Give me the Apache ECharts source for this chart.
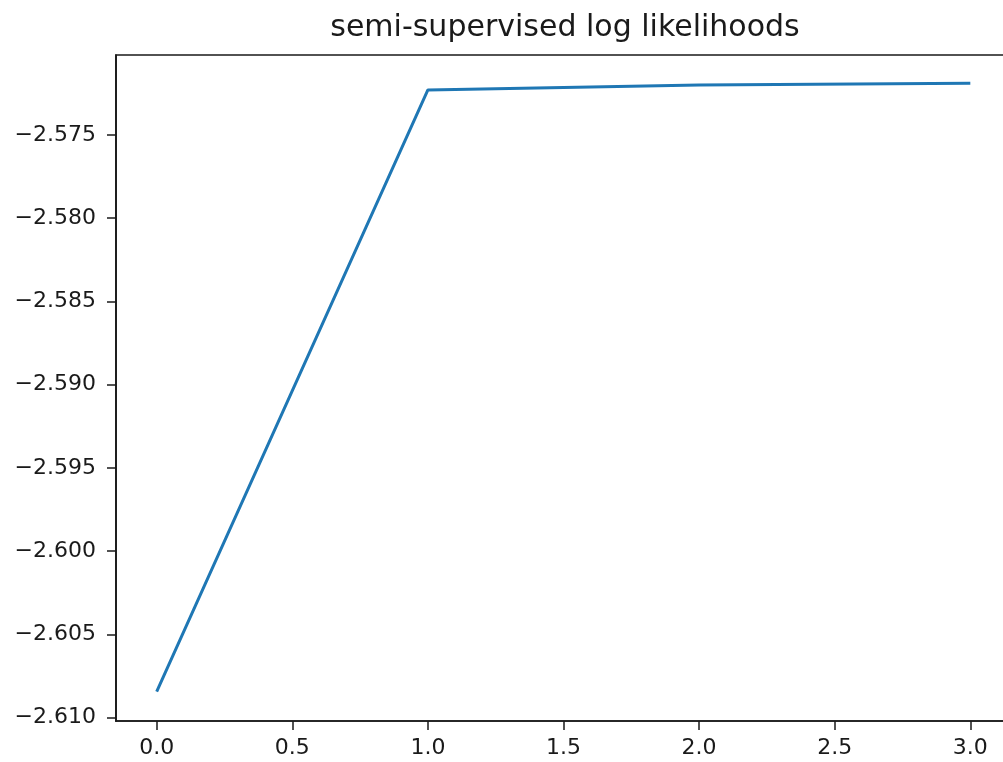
<!DOCTYPE html>
<html>
<head>
<meta charset="utf-8">
<script src="https://cdn.jsdelivr.net/npm/echarts@6/dist/echarts.min.js"></script>
<style>
html,body{margin:0;padding:0;background:#fff;}
#c{width:1003px;height:762px;}
</style>
</head>
<body>
<div id="c"></div>
<script>
const iterations = [0, 1, 2, 3];
const logLikelihoods = [-2.60843, -2.57230, -2.57200, -2.57190];
const xTicks = [0, 0.5, 1.0, 1.5, 2.0, 2.5, 3.0];
const yTicks = [-2.610, -2.605, -2.600, -2.595, -2.590, -2.585, -2.580, -2.575];
const titleText = 'semi-supervised log likelihoods';

const font = 'DejaVu Sans';
const chart = echarts.init(document.getElementById('c'), null, {renderer: 'canvas'});
const fmtY = v => (v < 0 ? '\u2212' : '') + Math.abs(v).toFixed(3);
const fmtX = v => v.toFixed(1);

chart.setOption({
  animation: false,
  backgroundColor: '#ffffff',
  title: {
    text: titleText,
    left: 560, top: 8, textAlign: 'center',
    textStyle: {fontFamily: font, fontSize: 30, fontWeight: 'normal', color: '#1a1a1a'}
  },
  grid: {
    left: 116, width: 895, top: 55, height: 666,
    outerBoundsMode: 'none', containLabel: false,
    show: true, borderColor: '#1a1a1a', borderWidth: 1.7, backgroundColor: 'transparent'
  },
  xAxis: {
    type: 'value', min: -0.15, max: 3.15,
    splitLine: {show: false},
    axisLine: {show: true, onZero: false, lineStyle: {color: '#1a1a1a', width: 1.7}},
    axisTick: {show: true, length: 9, customValues: xTicks, lineStyle: {color: '#1a1a1a', width: 1.5}},
    axisLabel: {show: true, customValues: xTicks, margin: 16, formatter: fmtX,
      fontFamily: font, fontSize: 22, color: '#1a1a1a'}
  },
  yAxis: {
    type: 'value', min: -2.61020, max: -2.57020,
    splitLine: {show: false},
    axisLine: {show: true, onZero: false, lineStyle: {color: '#1a1a1a', width: 1.7}},
    axisTick: {show: true, length: 9, customValues: yTicks, lineStyle: {color: '#1a1a1a', width: 1.5}},
    axisLabel: {show: true, customValues: yTicks, margin: 20, formatter: fmtY,
      fontFamily: font, fontSize: 22, color: '#1a1a1a'}
  },
  series: [{
    type: 'line',
    data: iterations.map((x, i) => [x, logLikelihoods[i]]),
    showSymbol: false,
    lineStyle: {color: '#1f77b4', width: 3},
    itemStyle: {color: '#1f77b4'}
  }]
});
</script>
</body>
</html>
